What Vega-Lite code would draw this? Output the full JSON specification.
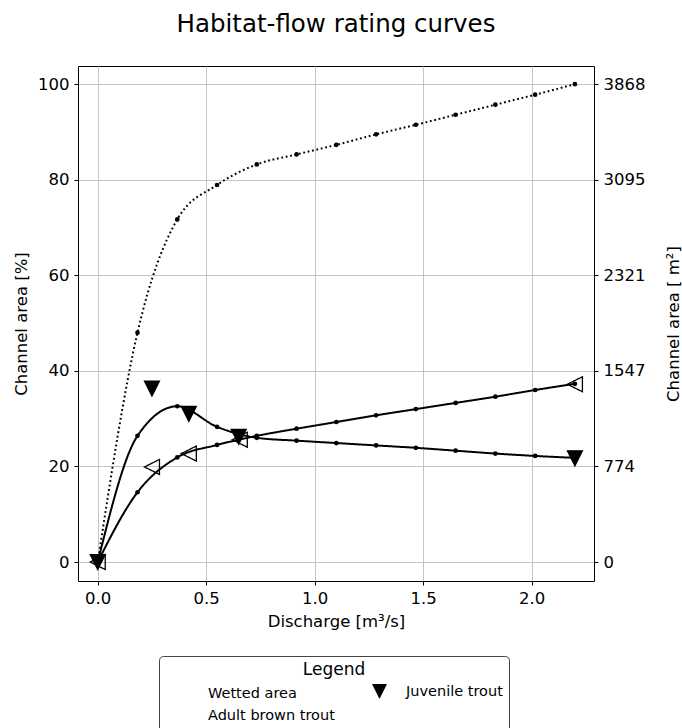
{
  "$schema": "https://vega.github.io/schema/vega-lite/v6.json",
  "width": 516,
  "height": 515,
  "autosize": "none",
  "padding": {"left": 78, "top": 66, "right": 88, "bottom": 147},
  "background": "white",
  "title": {"text": "Habitat-flow rating curves", "fontSize": 24.5, "font": "DejaVu Sans", "fontWeight": "normal", "color": "black", "anchor": "middle", "offset": 29},
  "datasets": {
    "curves": [
      {"series": "Wetted area", "q": 0, "area": 0},
      {"series": "Wetted area", "q": 0.1833, "area": 48.0},
      {"series": "Wetted area", "q": 0.3667, "area": 71.7},
      {"series": "Wetted area", "q": 0.55, "area": 78.9},
      {"series": "Wetted area", "q": 0.7333, "area": 83.2},
      {"series": "Wetted area", "q": 0.9167, "area": 85.3},
      {"series": "Wetted area", "q": 1.1, "area": 87.3},
      {"series": "Wetted area", "q": 1.2833, "area": 89.5},
      {"series": "Wetted area", "q": 1.4667, "area": 91.5},
      {"series": "Wetted area", "q": 1.65, "area": 93.6},
      {"series": "Wetted area", "q": 1.8333, "area": 95.7},
      {"series": "Wetted area", "q": 2.0167, "area": 97.8},
      {"series": "Wetted area", "q": 2.2, "area": 100},
      {"series": "Juvenile trout", "q": 0, "area": 0},
      {"series": "Juvenile trout", "q": 0.1833, "area": 26.4},
      {"series": "Juvenile trout", "q": 0.3667, "area": 32.6},
      {"series": "Juvenile trout", "q": 0.55, "area": 28.3},
      {"series": "Juvenile trout", "q": 0.7333, "area": 26.0},
      {"series": "Juvenile trout", "q": 0.9167, "area": 25.4},
      {"series": "Juvenile trout", "q": 1.1, "area": 24.9},
      {"series": "Juvenile trout", "q": 1.2833, "area": 24.4},
      {"series": "Juvenile trout", "q": 1.4667, "area": 23.9},
      {"series": "Juvenile trout", "q": 1.65, "area": 23.3},
      {"series": "Juvenile trout", "q": 1.8333, "area": 22.7},
      {"series": "Juvenile trout", "q": 2.0167, "area": 22.2},
      {"series": "Juvenile trout", "q": 2.2, "area": 21.8},
      {"series": "Adult brown trout", "q": 0, "area": 0},
      {"series": "Adult brown trout", "q": 0.1833, "area": 14.6},
      {"series": "Adult brown trout", "q": 0.3667, "area": 21.9},
      {"series": "Adult brown trout", "q": 0.55, "area": 24.5},
      {"series": "Adult brown trout", "q": 0.7333, "area": 26.4},
      {"series": "Adult brown trout", "q": 0.9167, "area": 27.9},
      {"series": "Adult brown trout", "q": 1.1, "area": 29.3},
      {"series": "Adult brown trout", "q": 1.2833, "area": 30.7},
      {"series": "Adult brown trout", "q": 1.4667, "area": 32.0},
      {"series": "Adult brown trout", "q": 1.65, "area": 33.3},
      {"series": "Adult brown trout", "q": 1.8333, "area": 34.6},
      {"series": "Adult brown trout", "q": 2.0167, "area": 36.0},
      {"series": "Adult brown trout", "q": 2.2, "area": 37.3}
    ],
    "obs": [
      {"species": "Juvenile trout", "q": 0, "area": 0},
      {"species": "Juvenile trout", "q": 0.25, "area": 36.3},
      {"species": "Juvenile trout", "q": 0.42, "area": 31.0},
      {"species": "Juvenile trout", "q": 0.65, "area": 26.2},
      {"species": "Juvenile trout", "q": 2.2, "area": 21.7},
      {"species": "Adult brown trout", "q": 0, "area": 0},
      {"species": "Adult brown trout", "q": 0.25, "area": 19.9},
      {"species": "Adult brown trout", "q": 0.42, "area": 22.7},
      {"species": "Adult brown trout", "q": 0.655, "area": 25.6},
      {"species": "Adult brown trout", "q": 2.2, "area": 37.2}
    ]
  },
  "config": {
    "view": {"stroke": "black", "strokeWidth": 1},
    "axis": {
      "labelFont": "DejaVu Sans", "titleFont": "DejaVu Sans",
      "labelFontSize": 16.5, "titleFontSize": 16.5, "titleFontWeight": "normal",
      "labelColor": "black", "titleColor": "black", "tickColor": "black",
      "tickSize": 4, "domain": false, "gridColor": "#c4c4c4", "gridWidth": 1,
      "labelPadding": 5
    },
    "legend": {
      "orient": "none", "legendX": 81, "legendY": 590,
      "titleAnchor": "middle", "titleFontSize": 17, "titleFontWeight": "normal",
      "titleFont": "DejaVu Sans", "titleColor": "black", "titlePadding": 4,
      "labelFont": "DejaVu Sans", "labelFontSize": 14.5, "labelColor": "black", "labelOffset": 18,
      "columns": 2, "direction": "horizontal", "columnPadding": 28, "rowPadding": 3,
      "symbolSize": 225, "symbolOffset": 8, "symbolStrokeWidth": 1.5, "symbolStrokeColor": "black",
      "strokeColor": "#444444", "cornerRadius": 4, "padding": 6, "fillColor": "white"
    }
  },
  "layer": [
    {
      "data": {"name": "curves"},
      "mark": {"type": "line", "interpolate": "monotone", "color": "black", "strokeWidth": 2},
      "encoding": {
        "x": {"field": "q", "type": "quantitative", "scale": {"domain": [-0.091, 2.288], "nice": false, "zero": false},
          "axis": {"values": [0, 0.5, 1, 1.5, 2], "format": ".1f", "title": "Discharge [m³/s]", "titlePadding": 7, "grid": true}},
        "y": {"field": "area", "type": "quantitative", "scale": {"domain": [-3.97, 103.8], "nice": false, "zero": false},
          "axis": {"values": [0, 20, 40, 60, 80, 100], "title": "Channel area [%]", "titlePadding": 8, "grid": true}},
        "detail": {"field": "series"},
        "strokeDash": {"condition": {"test": "datum.series === 'Wetted area'", "value": [1.8, 2.7]}, "value": [1, 0]}
      }
    },
    {
      "data": {"name": "curves"},
      "mark": {"type": "circle", "color": "black", "size": 22, "opacity": 1},
      "encoding": {
        "x": {"field": "q", "type": "quantitative"},
        "y": {"field": "area", "type": "quantitative", "scale": {"domain": [-3.97, 103.8], "nice": false, "zero": false}, "axis": null}
      }
    },
    {
      "data": {"name": "obs"},
      "mark": {"type": "point", "size": 225, "strokeWidth": 1.3, "opacity": 1, "stroke": "black"},
      "encoding": {
        "x": {"field": "q", "type": "quantitative"},
        "y": {"field": "area", "type": "quantitative", "scale": {"domain": [-3.97, 103.8], "nice": false, "zero": false}, "axis": null},
        "fill": {"field": "species", "type": "nominal",
          "scale": {"domain": ["Wetted area", "Juvenile trout", "Adult brown trout"], "range": ["transparent", "black", "transparent"]},
          "legend": {"title": "Legend"}},
        "strokeDash": {"field": "species", "type": "nominal",
          "scale": {"domain": ["Wetted area", "Juvenile trout", "Adult brown trout"], "range": [[1.8, 2.7], [1, 0], [1, 0]]},
          "legend": {"title": "Legend"}},
        "shape": {"field": "species", "type": "nominal",
          "scale": {"domain": ["Wetted area", "Juvenile trout", "Adult brown trout"], "range": ["M-2,0L2,0", "M0,1L-1,-1L1,-1Z", "M-1,0L1,-1L1,1Z"]},
          "legend": {"title": "Legend"}}
      }
    },
    {
      "data": {"name": "curves"},
      "mark": {"type": "point", "opacity": 0},
      "encoding": {
        "x": {"field": "q", "type": "quantitative"},
        "y": {"field": "area", "type": "quantitative", "scale": {"domain": [-3.97, 103.8], "nice": false, "zero": false},
          "axis": {"orient": "right", "values": [0, 20, 40, 60, 80, 100], "labelExpr": "format(datum.value * 38.684, '.0f')",
            "grid": false, "title": "Channel area [ m²]", "titleAngle": 270, "titlePadding": 37}}
      }
    }
  ],
  "resolve": {"scale": {"y": "independent"}}
}
